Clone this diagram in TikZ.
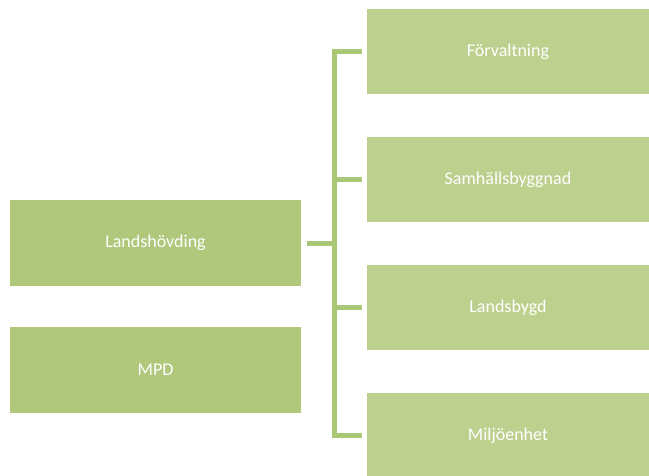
\documentclass[tikz,border=0pt]{standalone}
\usepackage{fontspec}
\setmainfont{Carlito}
\usetikzlibrary{positioning,calc}
\definecolor{unitdark}{RGB}{176,200,124}
\definecolor{unitlight}{RGB}{189,208,142}
\definecolor{branchgreen}{RGB}{169,199,117}

\begin{document}
\begin{tikzpicture}[x=1pt,y=-1pt,
    headblock/.style = {rectangle, fill=unitdark, text=white, minimum width=291pt, minimum height=86pt, inner sep=0pt, font=\fontsize{18}{21}\selectfont},
    unitblock/.style = {rectangle, fill=unitlight, text=white, minimum width=282pt, minimum height=85pt, inner sep=0pt, font=\fontsize{18}{21}\selectfont},
    branch/.style = {draw=branchgreen, line width=5pt},
    ]
        \useasboundingbox (0,0) rectangle (649,475);

        % Nodes
        \node[headblock] (lands) at (155.5,243) {Landshövding};
        \node[headblock] (mpd) at (155.5,370) {MPD};
        %
        \node[unitblock] (forv) at (508,51.5) {Förvaltning};
        \node[unitblock] (samh) at (508,179.5) {Samhällsbyggnad};
        \node[unitblock] (bygd) at (508,307.5) {Landsbygd};
        \node[unitblock] (milj) at (508,435.5) {Miljöenhet};
        %
        \coordinate (spine) at (334.5,0);

        % Draw
        \draw[branch] ([xshift=6pt]lands.east) -- (lands.east -| spine);
        \draw[branch] ([xshift=-5pt]forv.west) -- (forv.west -| spine) -- (milj.west -| spine) -- ([xshift=-5pt]milj.west);
        \foreach \unit in {samh, bygd}
            \draw[branch] (\unit.west -| spine) -- ([xshift=-5pt]\unit.west);
\end{tikzpicture}
\end{document}
